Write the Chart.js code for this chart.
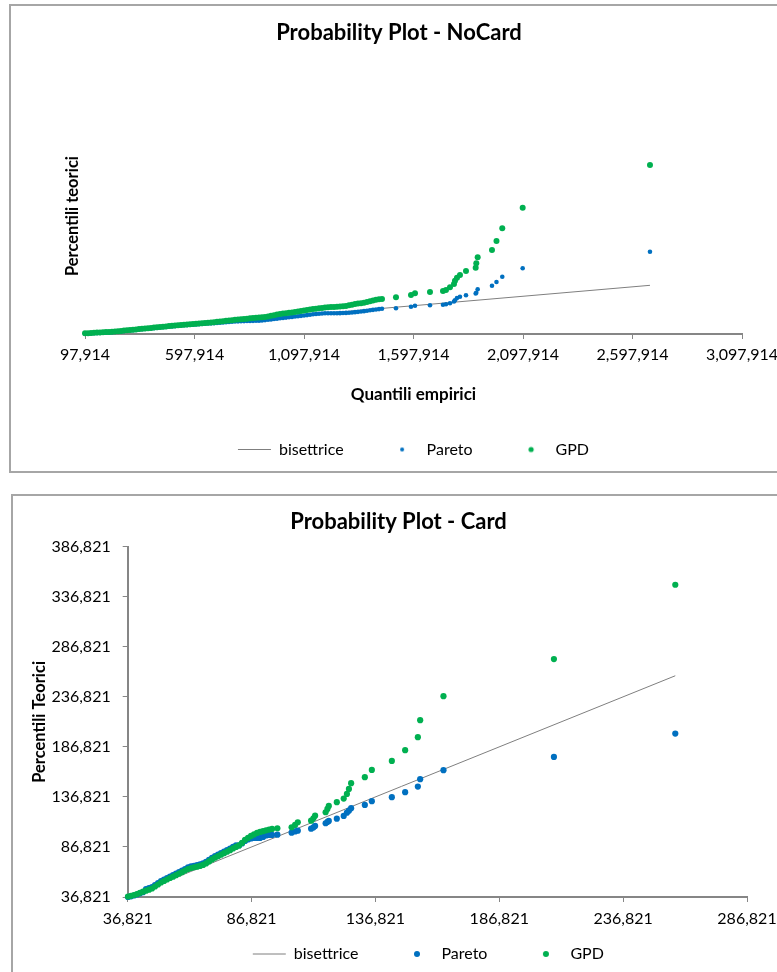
<!DOCTYPE html>
<html lang="it">
<head>
<meta charset="utf-8">
<title>Probability Plot</title>
<script src="https://cdn.jsdelivr.net/npm/chart.js@4.4.1/dist/chart.umd.min.js"></script>
<style>
  html, body { margin: 0; background: #fff; overflow: hidden; }
  .box { position: absolute; border: 2px solid #a6a6a6; background: #fff; }
  #box1 { left: 9px; top: 4px; }
  #box2 { left: 11px; top: 494px; }
  canvas { display: block; }
</style>
</head>
<body>
<div class="box" id="box1"><canvas id="noCard" width="780" height="465"></canvas></div>
<div class="box" id="box2"><canvas id="card" width="780" height="520"></canvas></div>
<script>
// Probability Plot - NoCard
var noCardQuantili = [97914, 111612, 125310, 139008, 152706, 166404, 180102, 193800, 207498, 221196,
  234894, 248592, 262290, 275988, 289686, 303384, 317082, 330780, 344478, 358176,
  371874, 385572, 399270, 412968, 426666, 440364, 454062, 467760, 481458, 495156,
  508854, 522552, 536250, 549948, 563646, 577344, 591042, 604740, 618438, 632136,
  645834, 659532, 673230, 686928, 700626, 714324, 728022, 741720, 755418, 769116,
  782814, 796512, 810210, 823908, 837606, 851304, 865002, 878700, 892398, 906096,
  919794, 933492, 947190, 960888, 974586, 988284, 1001982, 1015680, 1029378, 1043076,
  1056774, 1070472, 1084170, 1097868, 1111566, 1125264, 1138962, 1152660, 1166358, 1180056,
  1193754, 1207452, 1221150, 1234848, 1248546, 1262244, 1275942, 1289640, 1303338, 1317036,
  1330734, 1344432, 1358130, 1371828, 1385526, 1399224, 1412922, 1426620, 1440318, 1454016,
  1517940, 1586430, 1604694, 1673184, 1732542, 1746240, 1764504, 1782768, 1787334, 1796466,
  1810164, 1837560, 1881850, 1884590, 1890982, 1956276, 1976823, 2003306, 2096452, 2677704];
var noCardPareto = [108514, 117524, 126534, 135544, 145084, 154094, 163104, 172114, 181124, 190134,
  203914, 219814, 235714, 251614, 267514, 283414, 299314, 315214, 331114, 347014,
  362914, 378814, 394184, 409554, 424924, 440294, 455664, 471034, 486404, 501774,
  517674, 533044, 546824, 558484, 570144, 581804, 593464, 604594, 616254, 627914,
  639574, 651234, 662364, 674024, 686214, 697874, 709534, 721194, 733384, 745044,
  756704, 768364, 777904, 781614, 785854, 789564, 793804, 797514, 801754, 815534,
  834614, 853694, 872774, 891854, 910934, 930014, 948564, 966584, 985134, 1003154,
  1021704, 1039724, 1058804, 1079474, 1100674, 1121344, 1142014, 1155264, 1168514, 1181764,
  1195014, 1195014, 1195014, 1195014, 1195014, 1202434, 1209854, 1217274, 1224164, 1238474,
  1255434, 1272394, 1289354, 1308434, 1331224, 1354014, 1376804, 1399594, 1417614, 1433514,
  1460014, 1544814, 1597814, 1619014, 1650814, 1672014, 1725014, 1820414, 1884014, 2005914,
  2074814, 2149014, 2244414, 2286814, 2467014, 2657814, 2853914, 3134814, 3580014, 4459814];
var noCardGPD = [135014, 144024, 153034, 162044, 171584, 180594, 189604, 198614, 207624, 216634,
  230414, 246314, 262214, 278114, 294014, 309914, 325814, 341714, 357614, 373514,
  389414, 405314, 421214, 437114, 453014, 468914, 484814, 500714, 516614, 532514,
  548414, 564314, 579154, 592404, 605124, 618374, 631094, 644344, 657064, 670314,
  683564, 696284, 709534, 723844, 741334, 759354, 776844, 794334, 812354, 829844,
  847334, 865354, 882314, 897684, 912524, 927894, 943264, 958634, 974004, 989374,
  1004744, 1025944, 1058804, 1091664, 1125054, 1157914, 1179644, 1200844, 1222574, 1243774,
  1265504, 1288824, 1315854, 1342354, 1369384, 1395884, 1422914, 1441994, 1461604, 1480684,
  1500294, 1516194, 1525734, 1535274, 1544814, 1557004, 1569724, 1581914, 1617424, 1652404,
  1687914, 1710704, 1734024, 1756814, 1796564, 1836314, 1875004, 1912104, 1940194, 1949734,
  2043014, 2164914, 2255014, 2323914, 2376914, 2429914, 2573014, 2747914, 2922814, 3081814,
  3224914, 3436914, 3611814, 3845014, 4163014, 4549914, 5026914, 5700014, 6791814, 9054914];
var noCardBisettrice = [97914, 2677704];
var noCardXTicks = [97914, 597914, 1097914, 1597914, 2097914, 2597914, 3097914];
var noCardYRange = [97914, 12605914];

// Probability Plot - Card
var cardQuantili = [36942, 38154, 39366, 40577, 41789, 43001, 44212, 45424, 46636, 47847,
  49059, 50271, 51483, 52694, 53906, 55118, 56329, 57541, 58753, 59964,
  61176, 62388, 63600, 64811, 66023, 67235, 68446, 69658, 70870, 72081,
  73293, 74505, 75717, 76928, 78140, 79352, 80563, 81775, 82987, 84198,
  85410, 86622, 87834, 89045, 90257, 91469, 92680, 93892, 95104,
  97244, 102980, 104394, 105484, 110856, 111785, 112471, 116712, 117439, 118005,
  121236, 124023, 125315, 126123, 127012, 132545, 135373, 143451, 148822, 153952,
  154881, 164292, 208882, 257875];
var cardPareto = [36821, 37521, 38321, 39321, 40521, 41621, 44621, 45621, 46821, 48821,
  50821, 52821, 54321, 55821, 57321, 58621, 60121, 61621, 63121, 64821,
  66321, 67321, 68021, 68621, 69321, 70321, 71821, 73821, 75821, 77621,
  79121, 80621, 82121, 83621, 85121, 86821, 88321, 88321, 90321, 92821,
  94321, 95321, 95821, 95821, 95821, 96821, 98321, 98821, 98821,
  99121, 101121, 102321, 103121, 105121, 106321, 107821, 110521, 111821, 112821,
  115121, 117821, 121121, 123121, 125521, 128821, 132521, 136521, 141521, 147121,
  154521, 163521, 176821, 200121];
var cardGPD = [37321, 38021, 38821, 39821, 41021, 42121, 43121, 44121, 45321, 47321,
  49321, 51321, 52821, 54321, 55821, 57121, 58621, 60121, 61621, 63321,
  64821, 65821, 66521, 67121, 67821, 68821, 70321, 72321, 74321, 76121,
  77621, 79121, 80621, 82121, 83621, 85321, 86821, 88321, 90821, 93821,
  95821, 97821, 99321, 100821, 101821, 102621, 103421, 104221, 104821,
  105521, 106521, 108821, 111521, 113121, 115521, 118121, 121521, 124821, 127821,
  131521, 135121, 139821, 144821, 150521, 156521, 163821, 172821, 183521, 196521,
  213521, 237521, 274521, 348821];
var cardBisettrice = [36821, 257875];
var cardXTicks = [36821, 86821, 136821, 186821, 236821, 286821];
var cardYTicks = [36821, 86821, 136821, 186821, 236821, 286821, 336821, 386821];

Chart.defaults.font.family = "Lato";
Chart.defaults.color = "#000";

var blue = "#0070C0";
var green = "#00B050";
var gray = "#868686";

function points(xs, ys) {
  return xs.map(function (x, i) { return { x: x, y: ys[i] }; });
}

function fmt(v) {
  return Number(v).toLocaleString("en-US");
}

function setTicks(values) {
  return function (scale) {
    scale.ticks = values.map(function (v) { return { value: v }; });
  };
}

// small round marker used in the legend
function dot(color, r) {
  var c = document.createElement("canvas");
  c.width = c.height = Math.ceil(r * 2) + 2;
  var g = c.getContext("2d");
  g.fillStyle = color;
  g.beginPath();
  g.arc(c.width / 2, c.height / 2, r, 0, Math.PI * 2);
  g.fill();
  return c;
}

// moves the legend block (the Excel legend sits closer to the axis)
var legendNudge = {
  id: "legendNudge",
  afterLayout: function (chart, args, opts) {
    var l = chart.legend;
    if (!l) return;
    l.top += opts.dy || 0;
    l.bottom += opts.dy || 0;
    l.left += opts.dx || 0;
    l.right += opts.dx || 0;
  }
};

function makeDatasets(xs, pareto, gpd, line, rPareto, rGpd) {
  return [
    {
      label: "bisettrice",
      data: [{ x: line[0], y: line[0] }, { x: line[1], y: line[1] }],
      showLine: true,
      borderColor: "#7f7f7f",
      borderWidth: 1,
      pointRadius: 0,
      pointStyle: "line",
      pointBorderColor: "#7f7f7f",
      pointBorderWidth: 1,
      order: 2,
    },
    {
      label: "Pareto",
      data: points(xs, pareto),
      backgroundColor: blue,
      borderColor: blue,
      pointRadius: rPareto,
      pointBorderWidth: 0,
      order: 1,
    },
    {
      label: "GPD",
      data: points(xs, gpd),
      backgroundColor: green,
      borderColor: green,
      pointRadius: rGpd,
      pointBorderWidth: 0,
      order: 0,
    },
  ];
}

function legendOptions(rPareto, rGpd) {
  return {
    position: "bottom",
    fullSize: false,
    labels: {
      usePointStyle: true,
      pointStyleWidth: 33,
      padding: 42,
      font: { size: 16 },
      sort: function (a, b) { return a.datasetIndex - b.datasetIndex; },
      generateLabels: function (chart) {
        var items = Chart.defaults.plugins.legend.labels.generateLabels(chart);
        items.forEach(function (it) {
          if (it.datasetIndex === 1) it.pointStyle = dot(blue, rPareto);
          if (it.datasetIndex === 2) it.pointStyle = dot(green, rGpd);
        });
        return items;
      },
    },
  };
}

new Chart(document.getElementById("noCard"), {
  type: "scatter",
  data: { datasets: makeDatasets(noCardQuantili, noCardPareto, noCardGPD, noCardBisettrice, 2.3, 3) },
  plugins: [legendNudge],
  options: {
    responsive: false,
    animation: false,
    events: [],
    clip: false,
    layout: { padding: { left: 0, right: 4, top: 0, bottom: 3.5 } },
    scales: {
      x: {
        type: "linear",
        min: noCardXTicks[0],
        max: noCardXTicks[noCardXTicks.length - 1],
        afterBuildTicks: setTicks(noCardXTicks),
        afterFit: function (s) { s.height = 65.5; s.paddingRight = 49; },
        ticks: { callback: fmt, padding: 6.4, autoSkip: false, maxRotation: 0, font: { size: 16 } },
        grid: { drawOnChartArea: false, tickLength: 5, color: gray },
        border: { color: gray, width: 2 },
        title: {
          display: true,
          text: "Quantili empirici",
          font: { size: 17, weight: "bold", lineHeight: 1 },
          padding: { top: 0, bottom: -4 },
        },
      },
      y: {
        type: "linear",
        min: noCardYRange[0],
        max: noCardYRange[1],
        afterFit: function (s) { s.width = 74; },
        ticks: { display: false },
        grid: { display: false },
        border: { display: false },
        title: {
          display: true,
          text: "Percentili teorici",
          font: { size: 16.5, weight: "bold", lineHeight: 1 },
          padding: { top: 53.75, bottom: 0 },
        },
      },
    },
    plugins: {
      title: {
        display: true,
        text: "Probability Plot - NoCard",
        font: { size: 22, weight: "bold" },
        padding: { top: 13.8, bottom: 51.8 },
      },
      legend: legendOptions(2, 2.6),
      tooltip: { enabled: false },
      legendNudge: { dx: 0, dy: 0 },
    },
  },
});

new Chart(document.getElementById("card"), {
  type: "scatter",
  data: { datasets: makeDatasets(cardQuantili, cardPareto, cardGPD, cardBisettrice, 3.1, 3.1) },
  plugins: [legendNudge],
  options: {
    responsive: false,
    animation: false,
    events: [],
    clip: false,
    layout: { padding: { left: 0, right: 9, top: 0, bottom: 16 } },
    scales: {
      x: {
        type: "linear",
        min: cardXTicks[0],
        max: cardXTicks[cardXTicks.length - 1],
        afterBuildTicks: setTicks(cardXTicks),
        afterFit: function (s) { s.height = 35; s.paddingRight = 46; },
        ticks: { callback: fmt, padding: 7.4, autoSkip: false, maxRotation: 0, font: { size: 16 } },
        grid: { drawOnChartArea: false, tickLength: 5, color: gray },
        border: { color: gray, width: 2 },
      },
      y: {
        type: "linear",
        min: cardYTicks[0],
        max: cardYTicks[cardYTicks.length - 1],
        afterBuildTicks: setTicks(cardYTicks),
        afterFit: function (s) { s.width = 114.7; },
        ticks: { callback: fmt, padding: 12, autoSkip: false, font: { size: 16 } },
        grid: { drawOnChartArea: false, tickLength: 5, color: gray },
        border: { color: gray, width: 2 },
        title: {
          display: true,
          text: "Percentili Teorici",
          font: { size: 16.5, weight: "bold", lineHeight: 1 },
          padding: { top: 18.25, bottom: 0 },
        },
      },
    },
    plugins: {
      title: {
        display: true,
        text: "Probability Plot - Card",
        font: { size: 22, weight: "bold" },
        padding: { top: 12.8, bottom: 11.5 },
      },
      legend: legendOptions(3, 3),
      tooltip: { enabled: false },
      legendNudge: { dx: -9, dy: -28 },
    },
  },
});
</script>
</body>
</html>
